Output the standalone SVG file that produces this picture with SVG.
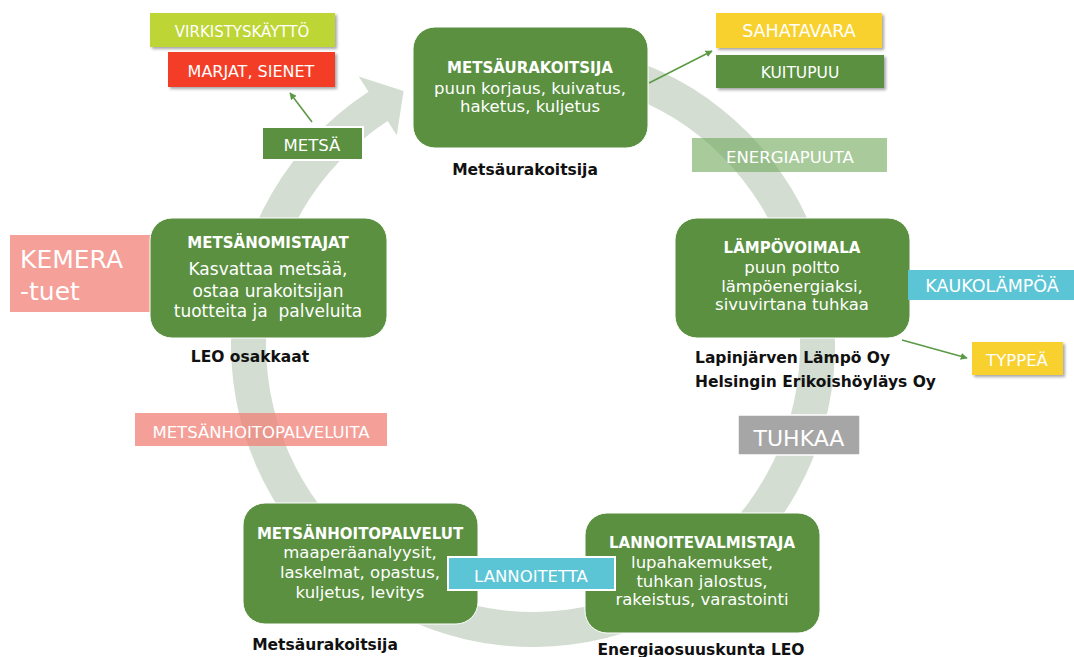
<svg xmlns="http://www.w3.org/2000/svg" width="1074" height="657" viewBox="0 0 1074 657">
  <defs>
    <filter id="shadow" x="-10%" y="-20%" width="130%" height="160%">
      <feDropShadow dx="2" dy="2" stdDeviation="1.5" flood-color="#000" flood-opacity="0.35"/>
    </filter>
    <marker id="arrow" viewBox="0 0 10 10" refX="9" refY="5" markerWidth="7" markerHeight="7" orient="auto-start-reverse" markerUnits="userSpaceOnUse">
      <path d="M0,0 L10,5 L0,10 Z" fill="#5a9a45"/>
    </marker>
    <style>
      .node { fill: #5a9040; stroke: #ffffff; stroke-width: 1; }
      .title { font-family: "DejaVu Sans", sans-serif; font-weight: bold; font-size: 15px; fill: #ffffff; text-anchor: middle; }
      .body { font-family: "DejaVu Sans", sans-serif; font-size: 16.5px; fill: #ffffff; text-anchor: middle; }
      .who { font-family: "DejaVu Sans", sans-serif; font-weight: bold; font-size: 15.5px; fill: #111111; }
      .tag { font-family: "DejaVu Sans", sans-serif; font-size: 16.5px; fill: #ffffff; text-anchor: middle; }
      .link { stroke: #5a9a45; stroke-width: 1.6; fill: none; marker-end: url(#arrow); }
    </style>
  </defs>

  <rect width="1074" height="657" fill="#ffffff"/>

  <!-- circular flow arrow -->
  <g id="cycle">
    <path d="M559.3,44.1 A302,302 0 1 1 368.5,91.7 L358.7,76.6 L403.6,91.1 L396.8,135.3 L387.6,121.1 A267,267 0 1 0 556.3,79 Z" fill="#d3ddd1"/>
  </g>

  <!-- flow labels on the cycle -->
  <g id="energiapuuta">
    <rect x="692" y="138" width="195" height="34" fill="#70a85a" fill-opacity="0.6"/>
    <text class="tag" x="790" y="163">ENERGIAPUUTA</text>
  </g>
  <g id="metsanhoitopalveluita">
    <rect x="135" y="413" width="252" height="33" fill="#f08077" fill-opacity="0.75"/>
    <text class="tag" x="261" y="438">METSÄNHOITOPALVELUITA</text>
  </g>
  <g id="tuhkaa">
    <rect x="738" y="415" width="122" height="40" fill="#a6a6a6" stroke="#ffffff" stroke-width="1.5"/>
    <text class="tag" x="799" y="446" style="font-size:22px">TUHKAA</text>
  </g>
  <g id="kemera">
    <rect x="10" y="235" width="145" height="77" fill="#f5a099"/>
    <text x="20" y="268" font-family="DejaVu Sans, sans-serif" font-size="25px" fill="#ffffff">KEMERA</text>
    <text x="20" y="300" font-family="DejaVu Sans, sans-serif" font-size="25px" fill="#ffffff">-tuet</text>
  </g>

  <!-- connectors -->
  <g id="connectors">
    <line class="link" x1="649" y1="83" x2="712" y2="51"/>
    <line class="link" x1="312" y1="122" x2="290" y2="93"/>
    <line class="link" x1="902" y1="340" x2="967" y2="358"/>
  </g>

  <!-- main stages -->
  <g id="metsaurakoitsija">
    <rect class="node" x="413" y="27" width="235" height="121" rx="22"/>
    <text class="title" x="530" y="73">METSÄURAKOITSIJA</text>
    <text class="body" x="530" y="94">puun korjaus, kuivatus,</text>
    <text class="body" x="530" y="112">haketus, kuljetus</text>
    <text class="who" x="525" y="175" text-anchor="middle">Metsäurakoitsija</text>
  </g>

  <g id="lampovoimala">
    <rect class="node" x="675" y="218" width="235" height="120" rx="22"/>
    <text class="title" x="792" y="253">LÄMPÖVOIMALA</text>
    <text class="body" x="792" y="273">puun poltto</text>
    <text class="body" x="792" y="292">lämpöenergiaksi,</text>
    <text class="body" x="792" y="310">sivuvirtana tuhkaa</text>
    <text class="who" x="695" y="363">Lapinjärven Lämpö Oy</text>
    <text class="who" x="695" y="387">Helsingin Erikoishöyläys Oy</text>
  </g>

  <g id="lannoitevalmistaja">
    <rect class="node" x="585" y="513" width="235" height="120" rx="22"/>
    <text class="title" x="702" y="548">LANNOITEVALMISTAJA</text>
    <text class="body" x="702" y="568">lupahakemukset,</text>
    <text class="body" x="702" y="587">tuhkan jalostus,</text>
    <text class="body" x="702" y="605">rakeistus, varastointi</text>
    <text class="who" x="701" y="655" text-anchor="middle">Energiaosuuskunta LEO</text>
  </g>

  <g id="metsanhoitopalvelut">
    <rect class="node" x="243" y="503" width="235" height="121" rx="22"/>
    <text class="title" x="360" y="539">METSÄNHOITOPALVELUT</text>
    <text class="body" x="360" y="558">maaperäanalyysit,</text>
    <text class="body" x="360" y="578">laskelmat, opastus,</text>
    <text class="body" x="360" y="598">kuljetus, levitys</text>
    <text class="who" x="325" y="650" text-anchor="middle">Metsäurakoitsija</text>
  </g>

  <g id="metsanomistajat">
    <rect class="node" x="150" y="218" width="237" height="120" rx="22"/>
    <text class="title" x="268" y="248">METSÄNOMISTAJAT</text>
    <text class="body" x="268" y="275" style="font-size:17px">Kasvattaa metsää,</text>
    <text class="body" x="268" y="297" style="font-size:17px">ostaa urakoitsijan</text>
    <text class="body" x="268" y="317" style="font-size:17px" xml:space="preserve">tuotteita ja  palveluita</text>
    <text class="who" x="250" y="362" text-anchor="middle">LEO osakkaat</text>
  </g>

  <!-- product and side-stream tags -->
  <g id="lannoitetta">
    <rect x="448" y="557" width="167" height="33" fill="#5bc5d6" stroke="#ffffff" stroke-width="2"/>
    <text class="tag" x="531" y="582">LANNOITETTA</text>
  </g>
  <g id="kaukolampoa">
    <rect x="908" y="270" width="166" height="30" fill="#5bc5d6"/>
    <text class="tag" x="992" y="292" style="font-size:17.5px">KAUKOLÄMPÖÄ</text>
  </g>
  <g id="typpea">
    <rect x="972" y="342" width="91" height="33" fill="#f9d12e" filter="url(#shadow)"/>
    <text class="tag" x="1017" y="366">TYPPEÄ</text>
  </g>
  <g id="sahatavara">
    <rect x="716" y="13" width="166" height="35" fill="#f9d12e" filter="url(#shadow)"/>
    <text class="tag" x="799" y="37" style="font-size:17.5px">SAHATAVARA</text>
  </g>
  <g id="kuitupuu">
    <rect x="716" y="55" width="168" height="33" fill="#5a9040" filter="url(#shadow)"/>
    <text class="tag" x="800" y="78" style="font-size:15.5px">KUITUPUU</text>
  </g>
  <g id="virkistyskaytto">
    <rect x="150" y="13" width="185" height="34" fill="#bdd535" filter="url(#shadow)"/>
    <text class="tag" x="242" y="37" style="font-size:15px">VIRKISTYSKÄYTTÖ</text>
  </g>
  <g id="marjat">
    <rect x="168" y="52" width="167" height="35" fill="#f43d25" filter="url(#shadow)"/>
    <text class="tag" x="251" y="77" style="font-size:16px">MARJAT, SIENET</text>
  </g>
  <g id="metsa">
    <rect x="262" y="127" width="101" height="33" fill="#5a9040" stroke="#ffffff" stroke-width="2"/>
    <text class="tag" x="312" y="151">METSÄ</text>
  </g>
</svg>
